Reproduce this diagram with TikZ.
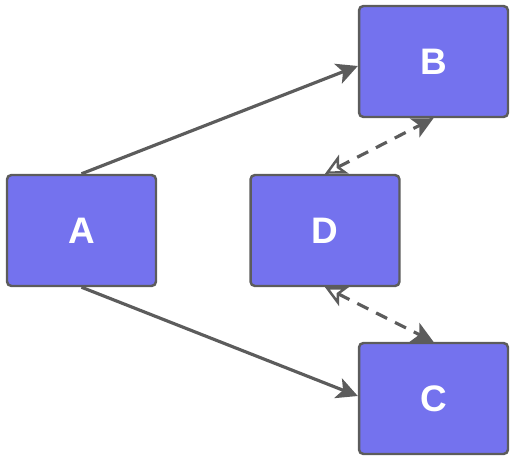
\documentclass[tikz,border=0pt]{standalone}
\usepackage{fontspec}
\setmainfont{Liberation Sans}
\usetikzlibrary{arrows.meta}
\definecolor{boxfill}{HTML}{7472EE}
\definecolor{edgegray}{HTML}{5C5C5C}
\tikzset{
  block/.style={draw=edgegray, line width=1.4pt, fill=boxfill, rounded corners=2.5pt,
    minimum width=2.98cm, minimum height=2.22cm, inner sep=0pt,
    text=white, font=\fontsize{21}{25}\selectfont\bfseries},
  link/.style={draw=edgegray, line width=1.8pt, -{Stealth[length=12pt,width=12pt,inset=3pt]}},
  dlink/.style={draw=edgegray, line width=1.8pt, dash pattern=on 7pt off 5pt,
    {Stealth[open,length=12pt,width=12pt,inset=3pt,line width=1.4pt]}-{Stealth[length=12pt,width=12pt,inset=3pt]}}
}
\begin{document}
\begin{tikzpicture}[x=0.02cm, y=-0.02cm]
			\useasboundingbox (0,0) rectangle (516,462);
			\node[block] (A) at (81.5,230.5) {A};
			\node[block] (B) at (433.5,61.5) {B};
			\node[block] (D) at (325,230.5) {D};
			\node[block] (C) at (433.5,398.5) {C};
			\draw[link] (A.north) -- (B.west |- 0,66);
			\draw[link] (A.south) -- (C.west |- 0,396);
			\draw[dlink] (D.north) -- (B.south);
			\draw[dlink] (D.south) -- (C.north);
		\end{tikzpicture}
\end{document}
